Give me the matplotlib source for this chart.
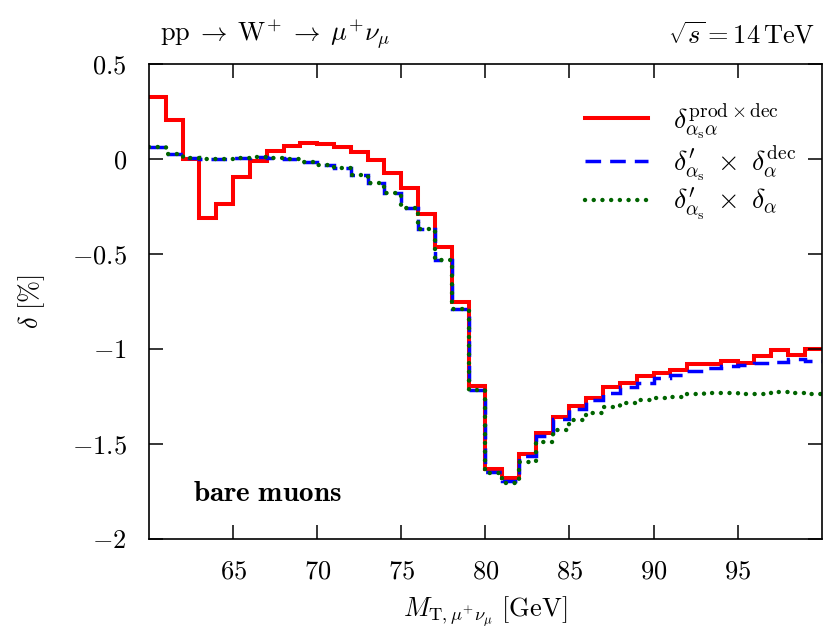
import numpy as np
import matplotlib
matplotlib.use("Agg")
import matplotlib.pyplot as plt
from matplotlib.lines import Line2D

plt.rcParams["font.family"] = "serif"
plt.rcParams["font.serif"] = ["cmr10", "DejaVu Serif"]
plt.rcParams["mathtext.fontset"] = "cm"
plt.rcParams["axes.formatter.use_mathtext"] = True

# bin edges of the transverse mass [GeV]
edges = np.arange(60, 101, 1)

# delta [%] per 1 GeV bin, 60..99
red_prod_dec = [
    0.325, 0.205, 0.0, -0.31, -0.235, -0.095, -0.01, 0.04, 0.068, 0.082,
    0.079, 0.061, 0.039, -0.005, -0.075, -0.154, -0.29, -0.465, -0.751, -1.195,
    -1.633, -1.68, -1.553, -1.444, -1.356, -1.30, -1.256, -1.202, -1.177, -1.142,
    -1.128, -1.111, -1.079, -1.079, -1.061, -1.072, -1.037, -1.005, -1.032, -1.0,
]
blue_dec = [
    0.065, 0.026, 0.005, -0.002, 0.002, 0.007, 0.009, 0.005, -0.002, -0.014,
    -0.032, -0.049, -0.084, -0.128, -0.181, -0.26, -0.37, -0.53, -0.79, -1.216,
    -1.646, -1.693, -1.563, -1.456, -1.37, -1.316, -1.268, -1.23, -1.202, -1.177,
    -1.154, -1.137, -1.116, -1.102, -1.089, -1.084, -1.075, -1.067, -1.054, -1.063,
]
green_alpha = [
    0.065, 0.026, 0.005, -0.002, 0.002, 0.007, 0.009, 0.005, -0.002, -0.014,
    -0.032, -0.049, -0.084, -0.128, -0.181, -0.26, -0.37, -0.53, -0.79, -1.216,
    -1.65, -1.705, -1.593, -1.49, -1.425, -1.374, -1.335, -1.304, -1.286, -1.268,
    -1.256, -1.25, -1.239, -1.234, -1.234, -1.237, -1.237, -1.225, -1.23, -1.237,
]

labels = [
    r"$\delta_{\alpha_{\rm s}\alpha}^{\rm prod\times dec}$",
    r"$\delta^{\prime}_{\alpha_{\rm s}}\;\times\;\delta_{\alpha}^{\rm dec}$",
    r"$\delta^{\prime}_{\alpha_{\rm s}}\;\times\;\delta_{\alpha}$",
]

xticks = [65, 70, 75, 80, 85, 90, 95]
yticks = [0.5, 0, -0.5, -1, -1.5, -2]
ytick_labels = ["$0.5$", "$0$", "$-0.5$", "$-1$", "$-1.5$", "$-2$"]

red_style = dict(color="#ff0000", linewidth=2.9, linestyle="-")
blue_style = dict(color="#0000ff", linewidth=2.5, linestyle=(0, (4.5, 2.6)))
green_style = dict(color="#006400", linewidth=3.2, linestyle=(0, (0.01, 1.95)))

fig = plt.figure(figsize=(8.3, 6.42), dpi=100)
ax = fig.add_axes([0.1795, 0.1604, 0.8105, 0.7399])

ax.stairs(red_prod_dec, edges, baseline=None, **red_style)
ax.stairs(blue_dec, edges, baseline=None, **blue_style)
ax.stairs(green_alpha, edges, baseline=None, capstyle="round", **green_style)

ax.set_xlim(60, 100)
ax.set_ylim(-2, 0.5)
ax.set_xticks(xticks)
ax.set_xticklabels([f"${t}$" for t in xticks])
ax.set_yticks(yticks)
ax.set_yticklabels(ytick_labels)
ax.tick_params(direction="in", length=10, width=1.1, top=True, right=True,
               labelsize=19)
ax.tick_params(axis="x", pad=15)
ax.tick_params(axis="y", pad=16)
for s in ax.spines.values():
    s.set_linewidth(1.2)

ax.set_xlabel(r"$M_{\mathrm{T},\mu^{+}\nu_{\mu}}\ [\mathrm{GeV}]$", fontsize=19, labelpad=8)
ax.set_ylabel(r"$\delta\ [\%]$", fontsize=19, labelpad=18)

fig.text(0.193, 0.945,
         r"$\mathrm{pp}\;\rightarrow\;\mathrm{W}^{+}\;\rightarrow\;\mu^{+}\nu_{\mu}$",
         fontsize=19, va="center", ha="left")
fig.text(0.982, 0.945, r"$\sqrt{s}=14\,\mathrm{TeV}$", fontsize=19, va="center", ha="right")

ax.text(0.066, 0.095, r"$\mathbf{bare\ muons}$", transform=ax.transAxes,
        fontsize=21, ha="left", va="center")

handles = [
    Line2D([], [], **red_style),
    Line2D([], [], **blue_style),
    Line2D([], [], dash_capstyle="round", **green_style),
]
ax.legend(handles, labels, loc="upper right", bbox_to_anchor=(1.0, 0.975), frameon=False,
          fontsize=20, handlelength=2.3, handletextpad=0.9, labelspacing=0.1)

fig.savefig("out.png", dpi=100)
